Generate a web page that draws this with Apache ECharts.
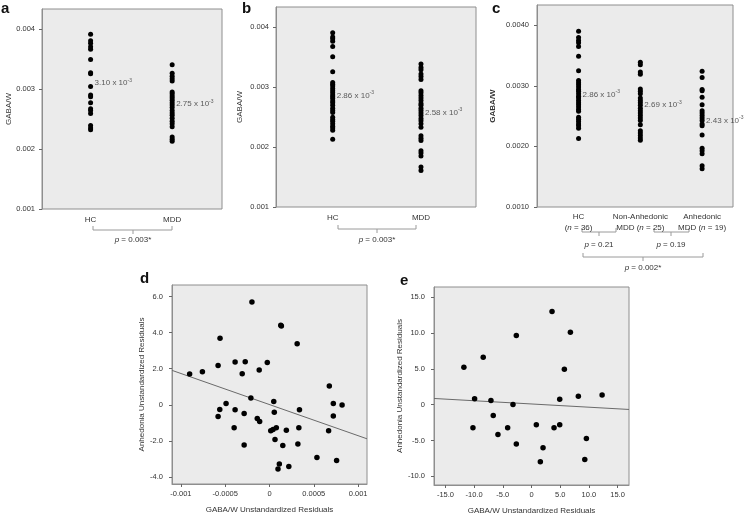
<!DOCTYPE html>
<html><head><meta charset="utf-8">
<script src="https://cdn.jsdelivr.net/npm/echarts@6/dist/echarts.min.js"></script>
<style>html,body{margin:0;padding:0;background:#fff}#c{width:745px;height:514px}</style>
</head><body><div id="c"></div>
<script>
// ---------- data ----------
const catsAB = ['HC', 'MDD'];
const catsC = ['HC', 'Non-Anhedonic', 'Anhedonic'];
const catsC2 = ['', 'MDD ', 'MDD '];
const nC = [36, 25, 19];

const hcA = [0.00391, 0.00380, 0.00376, 0.00370, 0.00366, 0.00349, 0.00327, 0.00325, 0.00304, 0.00290, 0.00287, 0.00277, 0.00267, 0.00264, 0.00259, 0.00239, 0.00235, 0.00232];
const mddA = [0.00340, 0.00326, 0.00321, 0.00317, 0.00313, 0.00295, 0.00292, 0.00288, 0.00285, 0.00281, 0.00277, 0.00273, 0.00269, 0.00264, 0.00260, 0.00256, 0.00251, 0.00246, 0.00242, 0.00237, 0.00220, 0.00216, 0.00213];
const meanA = [3.10, 2.75];

const hcB = [0.00391, 0.00384, 0.00381, 0.00377, 0.00368, 0.00351, 0.00326, 0.00308, 0.00305, 0.00302, 0.00298, 0.00294, 0.00291, 0.00287, 0.00284, 0.00281, 0.00277, 0.00274, 0.00270, 0.00265, 0.00261, 0.00258, 0.00250, 0.00246, 0.00243, 0.00239, 0.00235, 0.00232, 0.00228, 0.00213];
const mddB = [0.00339, 0.00333, 0.00329, 0.00322, 0.00318, 0.00313, 0.00294, 0.00291, 0.00286, 0.00282, 0.00278, 0.00273, 0.00270, 0.00265, 0.00261, 0.00257, 0.00253, 0.00248, 0.00244, 0.00239, 0.00233, 0.00219, 0.00215, 0.00211, 0.00194, 0.00190, 0.00185, 0.00167, 0.00161];
const meanB = [2.86, 2.58];

const hcC = [0.00390, 0.00380, 0.00375, 0.00371, 0.00365, 0.00349, 0.00325, 0.00309, 0.00305, 0.00302, 0.00298, 0.00294, 0.00291, 0.00287, 0.00283, 0.00280, 0.00276, 0.00272, 0.00269, 0.00265, 0.00261, 0.00258, 0.00248, 0.00245, 0.00241, 0.00237, 0.00234, 0.00230, 0.00213];
const nonC = [0.00339, 0.00335, 0.00323, 0.00319, 0.00295, 0.00291, 0.00287, 0.00280, 0.00276, 0.00272, 0.00268, 0.00263, 0.00259, 0.00255, 0.00251, 0.00247, 0.00243, 0.00236, 0.00226, 0.00222, 0.00218, 0.00214, 0.00210];
const anhC = [0.00324, 0.00314, 0.00294, 0.00292, 0.00281, 0.00269, 0.00259, 0.00255, 0.00251, 0.00247, 0.00243, 0.00237, 0.00234, 0.00219, 0.00197, 0.00193, 0.00188, 0.00168, 0.00163];
const meanC = [2.86, 2.69, 2.43];

const yTicksAB = [0.001, 0.002, 0.003, 0.004];
const yTicksC = [0.001, 0.002, 0.003, 0.004];

const dPoints = [[-0.000198, 5.71], [0.000127, 4.41], [0.000134, 4.37], [-0.000558, 3.70], [0.000312, 3.39], [-0.000580, 2.18], [-0.000388, 2.37], [-0.000274, 2.39], [-0.000025, 2.35], [-0.000308, 1.72], [-0.000116, 1.93], [-0.000901, 1.71], [-0.000757, 1.83], [0.000675, 1.04], [-0.000210, 0.37], [0.000048, 0.18], [-0.000490, 0.07], [-0.000561, -0.26], [-0.000580, -0.65], [-0.000388, -0.28], [-0.000286, -0.48], [0.000054, -0.41], [0.000338, -0.28], [0.000720, 0.07], [0.000819, -0.02], [0.000720, -0.63], [-0.000138, -0.76], [-0.000111, -0.93], [-0.000399, -1.28], [0.000014, -1.44], [0.000040, -1.37], [0.000077, -1.28], [0.000190, -1.41], [0.000331, -1.28], [0.000667, -1.44], [-0.000286, -2.24], [0.000062, -1.93], [0.000150, -2.26], [0.000320, -2.18], [0.000535, -2.93], [0.000757, -3.09], [0.000111, -3.29], [0.000096, -3.57], [0.000218, -3.43]];
const dFit = [[-0.0011, 1.91], [0.0011, -1.89]];
const dXTicks = [-0.001, -0.0005, 0, 0.0005, 0.001];
const dYTicks = [-4, -2, 0, 2, 4, 6];

const ePoints = [[-11.79, 5.22], [-8.42, 6.62], [-2.65, 9.64], [3.58, 12.98], [6.78, 10.10], [5.73, 4.94], [-9.92, 0.81], [-7.07, 0.58], [-3.23, 0.03], [4.92, 0.77], [8.17, 1.18], [12.31, 1.36], [-6.67, -1.50], [-10.21, -3.23], [-4.16, -3.23], [-5.85, -4.15], [0.84, -2.81], [3.93, -3.23], [4.92, -2.81], [-2.65, -5.50], [2.01, -6.02], [9.57, -4.71], [1.54, -7.97], [9.29, -7.63]];
const eFit = [[-17, 0.86], [17, -0.67]];
const eXTicks = [-15, -10, -5, 0, 5, 10, 15];
const eYTicks = [-10, -5, 0, 5, 10, 15];

// ---------- styles ----------
const FF = 'Liberation Sans, Arial, sans-serif';
const TXT = '#333';
const BG = '#ebebeb';
const BORDER = '#8e8e8e';
const tickFont = 7.5;

function gridCfg(left, top, width, height) {
  return { left, top, width, height, show: true, backgroundColor: BG, borderColor: BORDER, borderWidth: 1, containLabel: false, outerBoundsMode: 'none' };
}
function yAx(gi, min, max, ticks, fmt, name, gap, labMargin, nameBold) {
  return {
    type: 'value', gridIndex: gi, min, max, position: 'left',
    name, nameLocation: 'middle', nameGap: gap, nameRotate: 90,
    nameTextStyle: { fontFamily: FF, fontSize: 8, color: TXT, fontWeight: nameBold ? 'bold' : 'normal' },
    axisLine: { show: true, onZero: false, lineStyle: { color: BORDER } },
    axisTick: { show: true, customValues: ticks, length: 3, lineStyle: { color: '#666' } },
    axisLabel: { customValues: ticks, formatter: fmt, fontFamily: FF, fontSize: tickFont, color: TXT, margin: labMargin },
    splitLine: { show: false }
  };
}
function xCatAx(gi, min, max, labelFn, margin) {
  const vals = [];
  for (let i = 0; i < Math.round(max); i++) vals.push(i);
  return {
    type: 'value', gridIndex: gi, min, max, position: 'bottom',
    axisLine: { show: false, onZero: false }, axisTick: { show: false }, splitLine: { show: false },
    axisLabel: { customValues: vals, formatter: labelFn, fontFamily: FF, fontSize: 8, color: TXT, margin,
      rich: { t: { fontFamily: FF, fontSize: 8, color: TXT, lineHeight: 11 }, i: { fontFamily: FF, fontSize: 8, color: TXT, fontStyle: 'italic', lineHeight: 11 } } }
  };
}
function xValAx(gi, min, max, ticks, fmt, name) {
  return {
    type: 'value', gridIndex: gi, min, max, position: 'bottom',
    name, nameLocation: 'middle', nameGap: 22,
    nameTextStyle: { fontFamily: FF, fontSize: 8, color: TXT },
    axisLine: { show: true, onZero: false, lineStyle: { color: BORDER } },
    axisTick: { show: true, customValues: ticks, length: 3, lineStyle: { color: '#666' } },
    axisLabel: { customValues: ticks, formatter: fmt, fontFamily: FF, fontSize: tickFont, color: TXT, margin: 6 },
    splitLine: { show: false }
  };
}
const col = (xi, arr) => arr.map(v => [xi, v]);
function dots(gi, data, size) {
  return { type: 'scatter', xAxisIndex: gi, yAxisIndex: gi, data, symbolSize: size, itemStyle: { color: '#000', opacity: 1 }, silent: true, z: 3 };
}
const meanRich = {
  a: { fontFamily: FF, fontSize: 8, color: TXT, lineHeight: 10 },
  s: { fontFamily: FF, fontSize: 5, color: TXT, lineHeight: 5, verticalAlign: 'top' }
};
function meanSeries(gi, means) {
  return {
    type: 'scatter', xAxisIndex: gi, yAxisIndex: gi, symbolSize: 0, silent: true, z: 4,
    data: means.map((m, i) => [i, m * 1e-3]),
    label: { show: true, position: 'right', distance: 4,
      formatter: p => `{a|${means[p.dataIndex].toFixed(2)} x 10}{s|-3}`, rich: meanRich }
  };
}
function fitLine(gi, data) {
  return { type: 'line', xAxisIndex: gi, yAxisIndex: gi, data, symbol: 'none', silent: true, z: 2, lineStyle: { color: '#6a6a6a', width: 1 } };
}
const fmt3 = v => v.toFixed(3);
const fmt4 = v => v.toFixed(4);
const fmtRes = v => v === 0 ? '0' : v.toFixed(1);
const fmtD = v => v === 0 ? '0' : String(v);

// ---------- annotations ----------
const graphics = [];
function letter(txt, x, y) {
  graphics.push({ type: 'text', left: x, top: y, style: { text: txt, fontFamily: FF, fontSize: 15, fontWeight: 'bold', fill: '#111' } });
}
function bracket(x1, x2, y, cx, ty, label) {
  graphics.push({ type: 'polyline', shape: { points: [[x1, y - 4], [x1, y], [x2, y], [x2, y - 4]] }, style: { stroke: '#9a9a9a', lineWidth: 1, fill: null } });
  graphics.push({ type: 'line', shape: { x1: cx, y1: y, x2: cx, y2: y + 4 }, style: { stroke: '#9a9a9a', lineWidth: 1 } });
  graphics.push({ type: 'text', x: cx, y: ty, style: {
    text: `{i|p}{t| = ${label}}`, align: 'center', verticalAlign: 'middle',
    rich: { i: { fontFamily: FF, fontSize: 8, fontStyle: 'italic', fill: TXT }, t: { fontFamily: FF, fontSize: 8, fill: TXT } } } });
}
letter('a', 1, 1); letter('b', 242, 1); letter('c', 492, 1); letter('d', 140, 271); letter('e', 400, 273);
bracket(93, 172, 230, 133, 240, '0.003*');
bracket(338, 416, 229, 377, 240, '0.003*');
bracket(582, 616, 232, 599, 245, '0.21');
bracket(654, 689, 232, 671, 245, '0.19');
bracket(583, 703, 257, 643, 268, '0.002*');

const option = {
  animation: false,
  backgroundColor: '#fff',
  textStyle: { fontFamily: FF },
  grid: [
    gridCfg(42, 9, 180, 200),
    gridCfg(276, 7, 200, 200),
    gridCfg(537, 5, 196, 202),
    gridCfg(172, 285, 195, 199),
    gridCfg(434, 287, 195, 198)
  ],
  xAxis: [
    xCatAx(0, -0.596, 1.611, v => catsAB[v], 7),
    xCatAx(1, -0.642, 1.623, v => catsAB[v], 7),
    xCatAx(2, -0.673, 2.50, v => `{t|${catsC[v]}}\n{t|${catsC2[v]}(}{i|n}{t| = ${nC[v]})}`, 4),
    xValAx(3, -0.0011, 0.0011, dXTicks, fmtD, 'GABA/W Unstandardized Residuals'),
    xValAx(4, -17, 17, eXTicks, fmtRes, 'GABA/W Unstandardized Residuals')
  ],
  yAxis: [
    yAx(0, 0.001, 0.00433, yTicksAB, fmt3, 'GABA/W', 28, 7),
    yAx(1, 0.001, 0.00434, yTicksAB, fmt3, 'GABA/W', 32, 7),
    yAx(2, 0.001, 0.004335, yTicksC, fmt4, 'GABA/W', 40, 8, true),
    yAx(3, -4.4, 6.65, dYTicks, fmtRes, 'Anhedonia Unstandardized Residuals', 26, 9),
    yAx(4, -11.2, 16.4, eYTicks, fmtRes, 'Anhedonia Unstandardized Residuals', 27, 9)
  ],
  series: [
    dots(0, col(0, hcA).concat(col(1, mddA)), 5),
    meanSeries(0, meanA),
    dots(1, col(0, hcB).concat(col(1, mddB)), 5),
    meanSeries(1, meanB),
    dots(2, col(0, hcC).concat(col(1, nonC), col(2, anhC)), 5),
    meanSeries(2, meanC),
    dots(3, dPoints, 5.5),
    fitLine(3, dFit),
    dots(4, ePoints, 5.5),
    fitLine(4, eFit)
  ],
  graphic: graphics
};
const chart = echarts.init(document.getElementById('c'), null, { renderer: 'canvas' });
chart.setOption(option);
</script></body></html>
